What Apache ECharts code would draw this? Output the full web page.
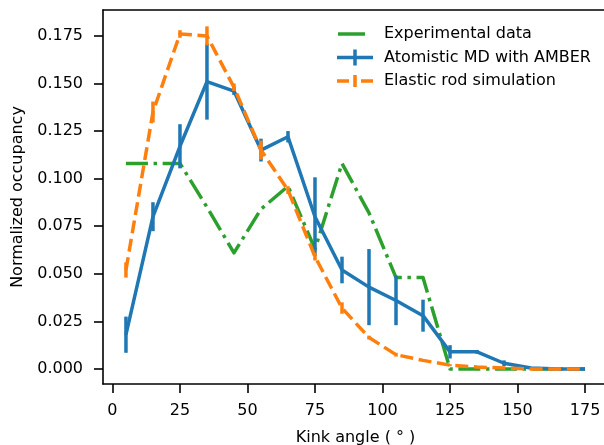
<!DOCTYPE html>
<html style="height: 100%">
<head>
    <meta charset="utf-8">
</head>
<body style="height: 100%; margin: 0; background: #fff">
    <div id="container" style="width: 604px; height: 445px"></div>
    <script type="text/javascript" src="https://cdn.jsdelivr.net/npm/echarts@6/dist/echarts.min.js"></script>
<script type="text/javascript">
    // bin centres (kink angle, degrees)
    var angles = [5, 15, 25, 35, 45, 55, 65, 75, 85, 95, 105, 115, 125, 135, 145, 155, 165, 175];
    var expData = [0.108, 0.108, 0.108, 0.085, 0.061, 0.084, 0.096, 0.063, 0.108, 0.082, 0.048, 0.048, 0, 0, 0, 0, 0, 0];
    var mdMean = [0.018, 0.080, 0.117, 0.151, 0.146, 0.115, 0.122, 0.080, 0.052, 0.043, 0.036, 0.028, 0.009, 0.009, 0.003, 0.0005, 0, 0];
    var mdErr = [0.0095, 0.0076, 0.0116, 0.020, 0.002, 0.006, 0.003, 0.0207, 0.007, 0.020, 0.013, 0.0084, 0.0035, 0.001, 0.0015, 0.0005, 0, 0];
    var rodMean = [0.052, 0.135, 0.176, 0.175, 0.148, 0.115, 0.094, 0.059, 0.032, 0.0165, 0.0075, 0.0045, 0.002, 0.001, 0.0005, 0, 0, 0];
    var rodErr = [0.004, 0.0055, 0.002, 0.005, 0.002, 0.005, 0.002, 0.002, 0.003, 0.001, 0.001, 0.0005, 0.0005, 0, 0, 0, 0, 0];
    var xTicks = [0, 25, 50, 75, 100, 125, 150, 175];
    var yTicks = [0, 0.025, 0.05, 0.075, 0.1, 0.125, 0.15, 0.175];

    var GREEN = '#2ca02c', BLUE = '#1f77b4', ORANGE = '#ff7f0e';
    var FONT = 'DejaVu Sans';
    var LW = 3.5;

    function pairs(vals) {
        var out = [];
        for (var i = 0; i < angles.length; i++) out.push([angles[i], vals[i]]);
        return out;
    }
    function errPairs(vals, errs) {
        var out = [];
        for (var i = 0; i < angles.length; i++) out.push([angles[i], vals[i] - errs[i], vals[i] + errs[i]]);
        return out;
    }
    function errRenderer(color) {
        return function (params, api) {
            var p1 = api.coord([api.value(0), api.value(1)]);
            var p2 = api.coord([api.value(0), api.value(2)]);
            return {
                type: 'line',
                shape: {x1: p1[0], y1: p1[1], x2: p2[0], y2: p2[1]},
                style: {stroke: color, lineWidth: LW}
            };
        };
    }

    // legend handles (bbox 36 x 16)
    var iconGreen = 'path://M0,0M36,16M1,6.25h27v3.5h-27z';
    var iconBlue = 'path://M0,0M36,16M0,6.25h36v3.5h-36zM16.25,0h3.5v16h-3.5z';
    var iconOrange = 'path://M0,0M36,16M0,6.25h12v3.5h-12zM24,6.25h12v3.5h-12zM16.25,2h3.5v12h-3.5z';

    var dom = document.getElementById("container");
    var myChart = echarts.init(dom, null, {renderer: 'canvas'});
    myChart.setOption({
        animation: false,
        backgroundColor: '#fff',
        textStyle: {fontFamily: FONT},
        grid: {
            left: 103, top: 10, width: 505, height: 374,
            outerBoundsMode: 'none',
            containLabel: false,
            show: false
        },
        legend: {
            orient: 'vertical',
            left: 337, top: 26, padding: 0,
            itemWidth: 36, itemHeight: 16, itemGap: 7.5,
            textStyle: {fontFamily: FONT, fontSize: 16, color: '#000', padding: [0, 0, 0, 6]},
            data: [
                {name: 'Experimental data', icon: iconGreen},
                {name: 'Atomistic MD with AMBER', icon: iconBlue},
                {name: 'Elastic rod simulation', icon: iconOrange}
            ]
        },
        xAxis: [{
            type: 'value',
            min: -3.5, max: 183.5,
            name: 'Kink angle ( \u00b0 )',
            nameLocation: 'middle',
            nameGap: 46,
            nameTextStyle: {fontFamily: FONT, fontSize: 16, color: '#000'},
            splitLine: {show: false},
            axisLine: {show: true, onZero: false, lineStyle: {color: '#000', width: 1.6}},
            axisTick: {show: true, customValues: xTicks, length: 9, lineStyle: {color: '#000', width: 1.6}},
            axisLabel: {customValues: xTicks, margin: 19, fontFamily: FONT, fontSize: 16, color: '#000'}
        }, {
            // top spine only
            type: 'value',
            position: 'top',
            min: -3.5, max: 183.5,
            splitLine: {show: false},
            axisLine: {show: true, onZero: false, lineStyle: {color: '#000', width: 1.6}},
            axisTick: {show: false},
            axisLabel: {show: false}
        }],
        yAxis: {
            type: 'value',
            min: -0.0079, max: 0.1886,
            name: 'Normalized occupancy',
            nameLocation: 'middle',
            nameGap: 77,
            nameTextStyle: {fontFamily: FONT, fontSize: 16, color: '#000'},
            splitLine: {show: false},
            axisLine: {show: true, onZero: false, lineStyle: {color: '#000', width: 1.6}},
            axisTick: {show: true, customValues: yTicks, length: 9, lineStyle: {color: '#000', width: 1.6}},
            axisLabel: {
                customValues: yTicks, margin: 20, fontFamily: FONT, fontSize: 16, color: '#000',
                formatter: function (v) { return v.toFixed(3); }
            }
        },
        series: [
            {
                name: 'Experimental data',
                type: 'line',
                data: pairs(expData),
                symbol: 'none',
                z: 2,
                itemStyle: {color: GREEN},
                lineStyle: {color: GREEN, width: LW, type: [22, 5.6, 3.5, 5.6], join: 'round'}
            },
            {
                name: 'Atomistic MD with AMBER',
                type: 'line',
                data: pairs(mdMean),
                symbol: 'none',
                z: 3,
                itemStyle: {color: BLUE},
                lineStyle: {color: BLUE, width: LW, join: 'round'}
            },
            {
                name: 'Atomistic MD with AMBER',
                type: 'custom',
                data: errPairs(mdMean, mdErr),
                renderItem: errRenderer(BLUE),
                z: 3,
                itemStyle: {color: BLUE}
            },
            {
                name: 'Elastic rod simulation',
                type: 'line',
                data: pairs(rodMean),
                symbol: 'none',
                z: 4,
                itemStyle: {color: ORANGE},
                lineStyle: {color: ORANGE, width: LW, type: [13, 5.6], join: 'round'}
            },
            {
                name: 'Elastic rod simulation',
                type: 'custom',
                data: errPairs(rodMean, rodErr),
                renderItem: errRenderer(ORANGE),
                z: 4,
                itemStyle: {color: ORANGE}
            }
        ]
    });
</script>
</body>
</html>
